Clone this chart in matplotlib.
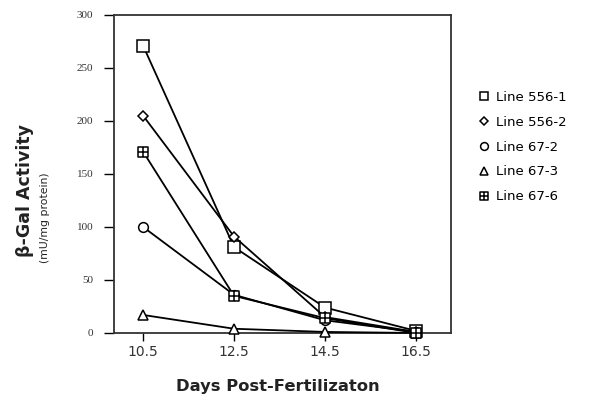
import numpy as np
import matplotlib.pyplot as plt
from matplotlib.path import Path
from matplotlib.lines import Line2D

days = [10.5, 12.5, 14.5, 16.5]
line_556_1 = [271, 81, 24, 2]
line_556_2 = [205, 91, 15, 1]
line_67_2 = [100, 36, 12, 1]
line_67_3 = [17, 4, 1, 0]
line_67_6 = [171, 35, 14, 0]
names = ["Line 556-1", "Line 556-2", "Line 67-2", "Line 67-3", "Line 67-6"]
yticks = [0, 50, 100, 150, 200, 250, 300]

# square with a cross inside
boxplus = Path(
    [(-1, -1), (1, -1), (1, 1), (-1, 1), (-1, -1),
     (0, -1), (0, 1), (-1, 0), (1, 0)],
    [Path.MOVETO, Path.LINETO, Path.LINETO, Path.LINETO, Path.CLOSEPOLY,
     Path.MOVETO, Path.LINETO, Path.MOVETO, Path.LINETO])

series = [line_556_1, line_556_2, line_67_2, line_67_3, line_67_6]
markers = ["s", "D", "o", "^", boxplus]
msizes = [8, 5.5, 7, 6.5, 7.5]

fig = plt.figure(figsize=(5.92, 4.01), dpi=100)
ax = fig.add_axes([0.1926, 0.1696, 0.5692, 0.793])

for vals, m, ms in zip(series, markers, msizes):
    ax.plot(days, vals, color="black", lw=1.3, marker=m, ms=ms,
            mfc="white", mec="black", mew=1.1, clip_on=False, zorder=3)

ax.set_xlim(9.86, 17.27)
ax.set_ylim(0, 300)
ax.set_xticks(days)
ax.set_xticklabels(["10.5", "12.5", "14.5", "16.5"], fontsize=10, color="#333333")
ax.set_yticks(yticks)
ax.set_yticklabels([str(v) for v in yticks], fontsize=8,
                   family="Liberation Serif", color="#333333")
ax.tick_params(axis="y", direction="out", length=7, width=1, pad=8)
ax.tick_params(axis="x", direction="out", length=6, width=1, pad=3)
for s in ax.spines.values():
    s.set_linewidth(1.3)
    s.set_color("#333333")

fig.text(0.043, 0.526, "β-Gal Activity", rotation=90, fontsize=12.5,
         fontweight="bold", ha="center", va="center", color="#222222")
fig.text(0.076, 0.456, "(mU/mg protein)", rotation=90, fontsize=7.8,
         ha="center", va="center", color="#222222")
fig.text(0.47, 0.035, "Days Post-Fertilizaton", fontsize=11.8,
         fontweight="bold", ha="center", va="center", color="#222222")

handles = [Line2D([], [], ls="none", marker=m, ms=ms * 0.8, mfc="white",
                  mec="black", mew=1.1) for m, ms in zip(markers, msizes)]
fig.legend(handles, names, loc="upper left", bbox_to_anchor=(0.797, 0.79),
           frameon=False, fontsize=9.5, handlelength=0.8, handletextpad=0.5,
           labelspacing=0.9, borderpad=0)

fig.savefig("out.png", dpi=100)
